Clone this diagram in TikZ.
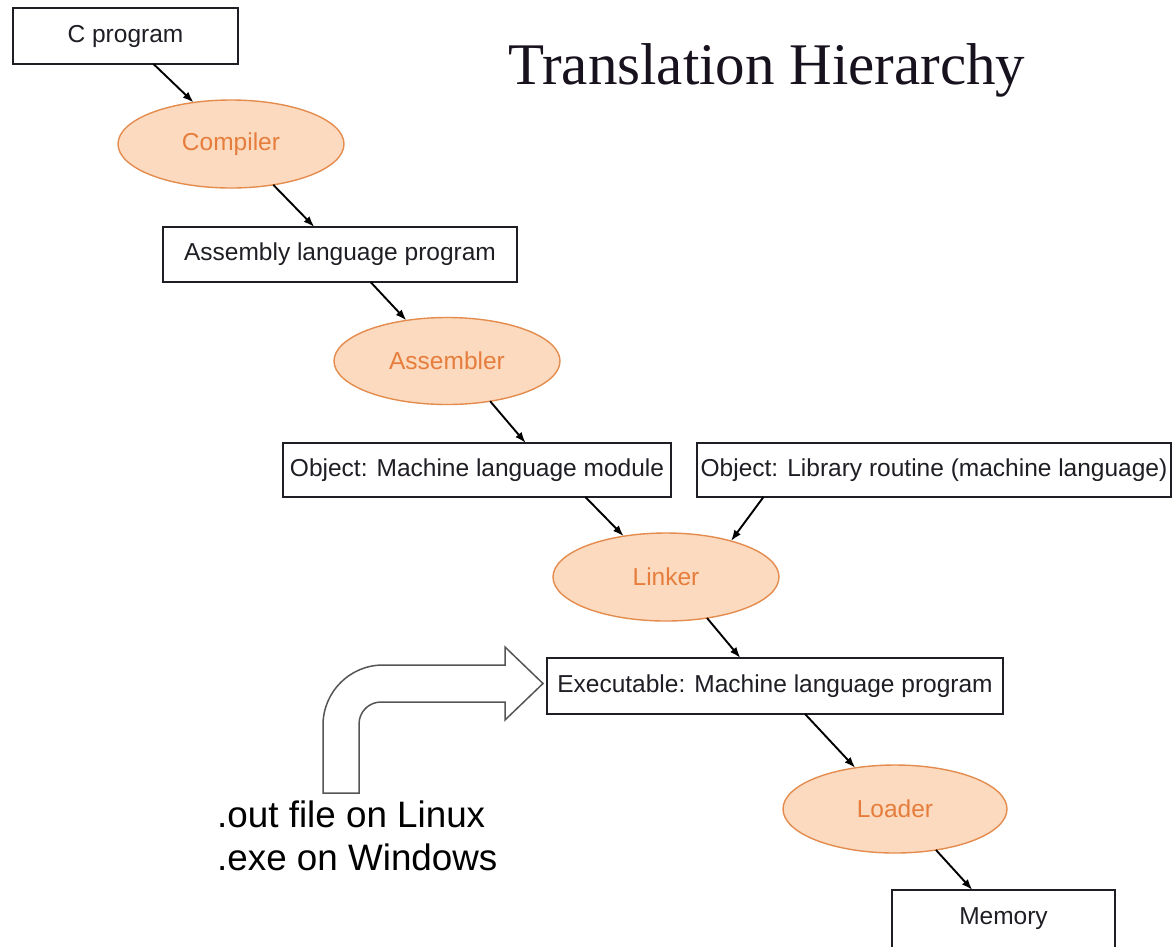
\documentclass[tikz,border=0pt]{standalone}
\usepackage{fontspec}
\setmainfont{Liberation Serif}
\newfontfamily\sansf{Liberation Sans}
\usetikzlibrary{shapes.geometric,arrows.meta}
\definecolor{peachfill}{RGB}{251,218,191}
\definecolor{peachline}{RGB}{228,140,78}
\definecolor{peachtext}{RGB}{230,125,60}
\definecolor{inkgray}{RGB}{30,30,36}
\definecolor{outline}{RGB}{85,85,85}
\begin{document}
\begin{tikzpicture}[x=1pt,y=-1pt,
  box/.style={draw=inkgray, line width=1.8pt, fill=white, inner sep=0pt, outer sep=0pt,
    font=\sansf\fontsize{24.5}{29}\selectfont, text=inkgray},
  stage/.style={ellipse, draw=peachline, line width=1.4pt, fill=peachfill, inner sep=0pt, outer sep=0pt,
    font=\sansf\fontsize{24.5}{29}\selectfont, text=peachtext},
  flow/.style={-{Latex[length=11pt,width=8pt]}, line width=1.9pt, black},
  hollow/.style={draw=outline, line width=1.5pt, fill=white},
  note/.style={font=\sansf\fontsize{36.8}{43}\selectfont, text=black, inner sep=0pt, anchor=base west}
]
\useasboundingbox (0,0) rectangle (1172,946);
\fill[white] (0,0) rectangle (1172,946);

% title
\node[font=\fontsize{59}{65}\selectfont, inner sep=0pt, anchor=base west, text={rgb,255:red,24;green,18;blue,30}] (title) at (508,84) {Translation Hierarchy};

% program forms (boxes) and translation steps (ellipses)
\node[box, minimum width=225pt, minimum height=56pt] (cprog) at (125.5,36) {C program};
\node[stage, minimum width=226pt, minimum height=88pt] (comp) at (231,144) {Compiler};
\node[box, minimum width=354pt, minimum height=55pt] (asm) at (340,254.5) {Assembly language program};
\node[stage, minimum width=226pt, minimum height=87pt] (asmb) at (447,361) {Assembler};
\node[box, minimum width=388pt, minimum height=54pt] (objm) at (477,470) {Object: Machine language module};
\node[box, minimum width=474pt, minimum height=54pt] (objl) at (934,470) {Object: Library routine (machine language)};
\node[stage, minimum width=226pt, minimum height=88pt] (link) at (666,577) {Linker};
\node[box, minimum width=456pt, minimum height=56pt] (exec) at (775,686) {Executable: Machine language program};
\node[stage, minimum width=224pt, minimum height=88pt] (load) at (895,809) {Loader};
\node[box, minimum width=223pt, minimum height=58pt] (mem) at (1003.5,919) {Memory};

% connectors
\draw[flow] (cprog.-45.5) -- (comp.132.9);
\draw[flow] (comp.-44.3) -- (asm.133.4);
\draw[flow] (asm.-42.5) -- (asmb.135);
\draw[flow] (asmb.-43.7) -- (objm.29.4);
\draw[flow] (objm.-14) -- (link.136.3);
\draw[flow] (objl.189.2) -- (link.29.4);
\draw[flow] (link.-45.7) -- (exec.141.3);
\draw[flow] (exec.-43) -- (load.134.3);
\draw[flow] (load.-45.7) -- (mem.137.9);

% bent hollow arrow pointing at the executable
\draw[hollow] (323,793) -- (323,725)
  .. controls (323,691.9) and (349.9,665) .. (383,665)
  -- (505,665) -- (505,647) -- (543,683.5) -- (505,720) -- (505,702)
  -- (381,702)
  .. controls (368.85,702) and (359,711.85) .. (359,724)
  -- (359,793) -- cycle;

% file name notes
\node[note] (linuxnote) at (217,827) {.out file on Linux};
\node[note] (winnote) at (217,870) {.exe on Windows};
\end{tikzpicture}
\end{document}
